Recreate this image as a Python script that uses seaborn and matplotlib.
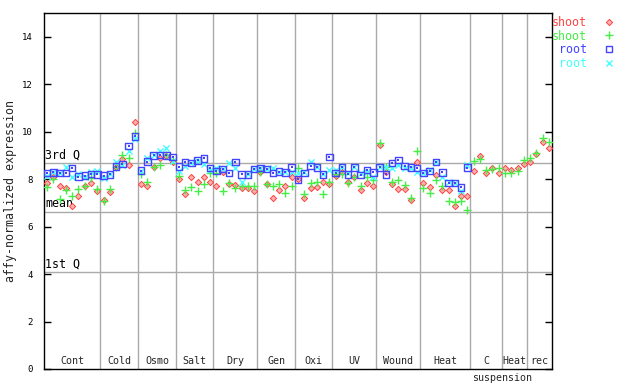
import numpy as np
import pandas as pd
import seaborn as sns
import matplotlib
matplotlib.use("Agg")
import matplotlib.pyplot as plt
from matplotlib.lines import Line2D

# groups along the x axis and how many samples each holds
groups = ["Cont", "Cold", "Osmo", "Salt", "Dry", "Gen", "Oxi", "UV", "Wound", "Heat", "C", "Heat", "rec"]
group_sizes = [9, 6, 6, 6, 7, 6, 6, 7, 7, 8, 5, 4, 4]

# shoot probe 1 (red diamonds)
shoot_a = [7.83, 8.07, 7.69, 7.62, 6.85, 7.27, 7.69, 7.83, 7.50, 7.13, 7.45, 8.50, 8.84, 8.60, 10.40,
           7.80, 7.69, 8.50, 8.90, 8.96, 8.74,
           8.00, 7.38, 8.07, 7.87, 8.08, 7.87,
           7.72, 8.30, 7.79, 7.76, 7.62, 7.62, 7.52,
           8.30, 7.79, 7.20, 7.53, 7.73, 8.11,
           7.99, 7.20, 7.62, 7.66, 7.87, 7.79,
           8.14, 8.29, 7.90, 8.11, 7.55, 7.83, 7.72,
           9.42, 8.30, 7.79, 7.59, 7.59, 7.10, 8.74,
           7.83, 7.66, 8.18, 7.55, 7.55, 6.87, 7.31, 7.27,
           8.35, 8.98, 8.25, 8.49, 8.25,
           8.49, 8.39, 8.46, 8.63,
           8.74, 9.05, 9.56, 9.31]

# shoot probe 2 (green plus)
shoot_b = [7.65, 8.00, 7.17, 7.55, 7.27, 7.59, 7.69, 8.04, 7.59, 7.08, 7.59, 8.53, 9.03, 8.89, 9.94,
           8.22, 7.87, 8.53, 8.60, 9.03, 8.80,
           8.14, 7.55, 7.66, 7.48, 7.79, 8.25,
           8.25, 7.50, 7.83, 7.62, 7.73, 7.73, 7.69,
           8.29, 7.79, 7.72, 7.79, 7.41, 7.72,
           8.46, 7.36, 7.83, 7.86, 7.36, 7.90,
           8.20, 8.20, 7.83, 8.11, 7.73, 8.07, 7.97,
           9.52, 8.53, 7.90, 7.97, 7.76, 7.22, 9.20,
           7.62, 7.41, 7.97, 7.72, 7.08, 7.03, 7.08, 6.70,
           8.77, 8.86, 8.39, 8.43, 8.49,
           8.25, 8.25, 8.35, 8.81,
           8.91, 9.12, 9.73, 9.56]

# root probe 1 (blue squares), no values after Heat
root_a = [8.25, 8.29, 8.25, 8.25, 8.46, 8.11, 8.15, 8.22, 8.20, 8.15, 8.20, 8.53, 8.63, 9.40, 9.80,
          8.36, 8.74, 9.00, 9.02, 9.00, 8.93,
          8.53, 8.72, 8.67, 8.79, 8.88, 8.46,
          8.35, 8.43, 8.25, 8.72, 8.20, 8.20, 8.43,
          8.46, 8.43, 8.25, 8.32, 8.29, 8.50,
          7.99, 8.25, 8.56, 8.50, 8.20, 8.93,
          8.25, 8.50, 8.20, 8.50, 8.18, 8.39, 8.29,
          8.50, 8.20, 8.67, 8.81, 8.56, 8.50, 8.46,
          8.25, 8.35, 8.72, 8.29, 7.83, 7.83, 7.65, 8.49]

# root probe 2 (cyan crosses)
root_b = [8.15, 8.29, 8.25, 8.50, 8.07, 8.22, 8.11, 8.29, 8.35, 8.03, 8.20, 8.74, 8.60, 9.20, 9.67,
          8.36, 8.89, 9.00, 9.20, 9.30, 8.78,
          8.35, 8.56, 8.67, 8.76, 8.63, 8.39,
          8.49, 8.43, 8.67, 8.49, 7.90, 8.20, 8.43,
          8.46, 8.43, 8.49, 8.32, 8.29, 8.29,
          8.25, 8.29, 8.74, 8.50, 8.20, 8.39,
          8.39, 8.50, 8.25, 8.50, 8.25, 8.32, 8.11,
          8.50, 8.50, 8.49, 8.60, 8.49, 8.46, 8.29,
          8.25, 8.40, 8.72, 8.11, 7.90, 7.83, 7.50, 8.60]

q_levels = [8.69, 6.62, 4.09]
q_names = ["3rd Q", "mean", "1st Q"]

red, green, blue, cyan = "#ff4444", "#44ee44", "#4444ff", "#44ffff"

n = len(shoot_a)
pad = [np.nan] * (n - len(root_a))
df = pd.DataFrame({
    "idx": np.arange(n),
    "shoot_a": shoot_a,
    "shoot_b": shoot_b,
    "root_a": root_a + pad,
    "root_b": root_b + pad,
})

sns.set_style("white")
plt.rcParams["font.family"] = ["DejaVu Sans Mono", "DejaVu Sans"]

fig = plt.figure(figsize=(6.4, 3.84), dpi=100)
ax = fig.add_axes([44 / 640, 15 / 384, 508 / 640, 356 / 384])

# separators and quartile lines
edges = np.cumsum(group_sizes)
for e in edges[:-1]:
    ax.axvline(e - 0.5, color="#aaaaaa", lw=1, zorder=1)
for lvl, name in zip(q_levels, q_names):
    ax.axhline(lvl, color="#aaaaaa", lw=1, zorder=1)
    ax.annotate(name, (0, lvl), xycoords=("axes fraction", "data"),
                xytext=(1, 1), textcoords="offset points",
                ha="left", va="bottom", fontsize=8.4, color="black")

sns.scatterplot(data=df, x="idx", y="shoot_a", marker="D", s=10, facecolor="#ffb0b0",
                edgecolor=red, linewidth=0.7, ax=ax, zorder=3)
sns.scatterplot(data=df, x="idx", y="shoot_b", marker="+", s=32, color=green,
                linewidth=1.0, ax=ax, zorder=3)
sns.scatterplot(data=df, x="idx", y="root_a", marker="s", s=22, facecolor="none",
                edgecolor=blue, linewidth=1.0, ax=ax, zorder=4)
sns.scatterplot(data=df, x="idx", y="root_a", marker="s", s=1.5, color=blue,
                linewidth=0, ax=ax, zorder=4)
sns.scatterplot(data=df, x="idx", y="root_b", marker="x", s=20, color=cyan,
                linewidth=1.0, ax=ax, zorder=3)

ax.set_xlim(-0.5, n - 0.5)
ax.set_ylim(0, 15)
ax.set_xticks([])
ax.set_yticks(range(0, 15, 2))
ax.set_xlabel("")
ax.set_ylabel("affy-normalized expression", fontsize=8.4)
ax.yaxis.set_label_coords(-(44 - 17) / 508, 0.5)
ax.tick_params(axis="y", direction="in", length=5, width=1, pad=8,
               labelsize=6.5, left=True, right=True, colors="black")
for sp in ax.spines.values():
    sp.set_color("black")
    sp.set_linewidth(1)

# group labels inside the bottom of the axes
starts = edges - np.array(group_sizes)
for g, s0, e in zip(groups, starts, edges):
    ax.annotate(g, ((s0 + e) / 2 - 0.5, 0), xycoords=("data", "axes fraction"),
                xytext=(0, 2), textcoords="offset points",
                ha="center", va="bottom", fontsize=7.2)
ax.annotate("suspension", (edges[10] - 0.5, 0), xycoords=("data", "axes fraction"),
            xytext=(0, -3), textcoords="offset points",
            ha="center", va="top", fontsize=7.2)

handles = [
    Line2D([], [], ls="", marker="D", markersize=3.2, markerfacecolor="#ffb0b0",
           markeredgecolor=red, markeredgewidth=0.7),
    Line2D([], [], ls="", marker="+", markersize=5.5, color=green, markeredgewidth=1.0),
    Line2D([], [], ls="", marker="s", markersize=4.2, markerfacecolor="none",
           markeredgecolor=blue, markeredgewidth=1.0),
    Line2D([], [], ls="", marker="x", markersize=4.2, color=cyan, markeredgewidth=1.0),
]
fig.legend(handles, ["shoot", "shoot", "root", "root"], markerfirst=False,
           loc="upper right", bbox_to_anchor=(615 / 640, 1 - 16 / 384),
           frameon=False, fontsize=8.4, labelcolor=[red, green, blue, cyan],
           handlelength=1.0, handletextpad=1.4, labelspacing=0.05,
           borderpad=0, borderaxespad=0)

fig.savefig("out.png", dpi=100)
